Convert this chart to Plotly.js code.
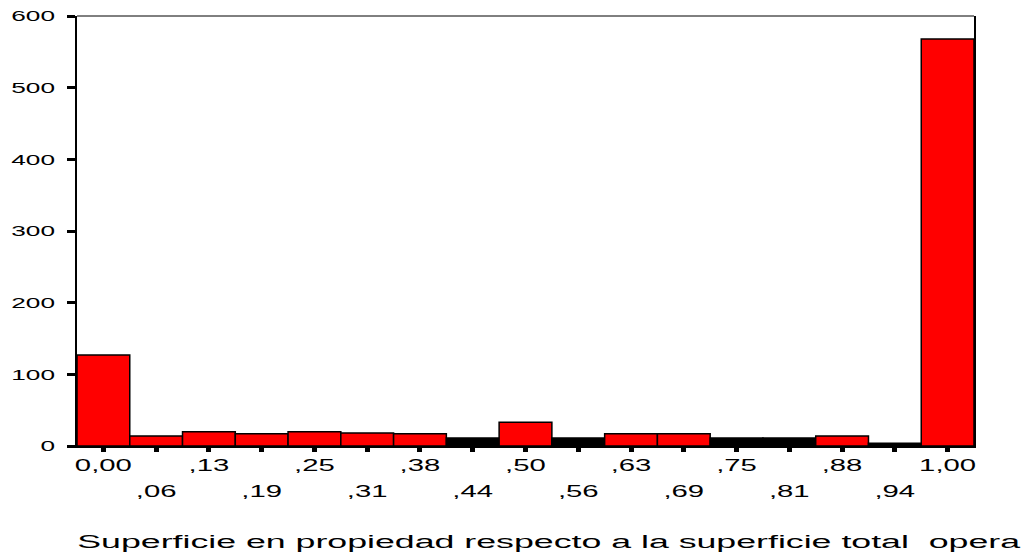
<!DOCTYPE html>
<html><head><meta charset="utf-8">
<script src="https://cdn.plot.ly/plotly-3.0.1.min.js"></script>
<style>body{margin:0;background:#fff}</style>
</head><body>
<div id="chart" style="width:1024px;height:554px"></div>
<script>
const binCenters = [0, 0.0625, 0.125, 0.1875, 0.25, 0.3125, 0.375, 0.4375, 0.5, 0.5625, 0.625, 0.6875, 0.75, 0.8125, 0.875, 0.9375, 1.0];
const counts = [127, 14, 20, 17, 20, 18, 17, 11, 33, 11, 17, 17, 11, 11, 14, 4, 568];
const tickLabels = ['0,00', ',06', ',13', ',19', ',25', ',31', ',38', ',44', ',50', ',56', ',63', ',69', ',75', ',81', ',88', ',94', '1,00'];
const yTickVals = [0, 100, 200, 300, 400, 500, 600];
const xTitle = 'Superficie en propiedad respecto a la superficie total\u00a0 opera';

const FONT = 'Liberation Sans, Arial, sans-serif';
const binWidth = binCenters[1] - binCenters[0];
const xRange = [binCenters[0] - binWidth / 2, binCenters[binCenters.length - 1] + binWidth / 2];
const row1Text = tickLabels.map((t, i) => i % 2 === 0 ? t : '');
const oddVals = binCenters.filter((v, i) => i % 2 === 1);
const oddText = tickLabels.filter((t, i) => i % 2 === 1);
const barColors = counts.map(v => v < 12 ? '#000000' : '#ff0000');

const traces = [
  {
    type: 'bar', x: binCenters, y: counts, width: binWidth,
    marker: { color: barColors, line: { color: '#000000', width: 1.5 } },
    hoverinfo: 'skip', showlegend: false
  },
  { type: 'scatter', x: [], y: [], xaxis: 'x2', yaxis: 'y', showlegend: false, hoverinfo: 'skip' }
];

const layout = {
  width: 1024, height: 554,
  margin: { l: 77, r: 50, t: 16, b: 108, pad: 0 },
  paper_bgcolor: '#ffffff', plot_bgcolor: '#ffffff',
  bargap: 0, showlegend: false, hovermode: false,
  font: { family: FONT, color: '#000000' },
  xaxis: {
    range: xRange, tickmode: 'array', tickvals: binCenters, ticktext: row1Text,
    ticks: 'outside', ticklen: 4, tickwidth: 5, tickcolor: '#000000',
    showline: true, linewidth: 2, linecolor: '#000000',
    showgrid: false, zeroline: false, fixedrange: true,
    tickfont: { family: FONT, size: 16, color: '#000000' }
  },
  xaxis2: {
    overlaying: 'x', anchor: 'y', side: 'bottom',
    range: xRange, tickmode: 'array', tickvals: oddVals, ticktext: oddText,
    ticks: '', showline: false, showgrid: false, zeroline: false, fixedrange: true,
    ticklabelstandoff: 34,
    tickfont: { family: FONT, size: 16, color: '#000000' }
  },
  yaxis: {
    range: [0, 600], tickmode: 'array', tickvals: yTickVals,
    ticks: 'outside', ticklen: 8, tickwidth: 3, tickcolor: '#000000',
    showline: true, linewidth: 2, linecolor: '#000000', mirror: true,
    showgrid: false, zeroline: false, fixedrange: true,
    ticklabelstandoff: 9,
    tickfont: { family: FONT, size: 15, color: '#000000' }
  },
  shapes: [
    { type: 'line', xref: 'paper', yref: 'paper', x0: 0, x1: 1, y0: 1, y1: 1,
      line: { color: '#000000', width: 1 } }
  ],
  annotations: [
    { text: xTitle, xref: 'paper', yref: 'paper', x: (549 - 77) / 897, y: 0,
      xanchor: 'center', yanchor: 'middle', yshift: -95, showarrow: false,
      font: { family: FONT, size: 19, color: '#000000' } }
  ]
};

function stretch(sel, sx, anchor, targetWidth) {
  document.querySelectorAll(sel).forEach(t => {
    const b = t.getBBox();
    if (!b.width) return;
    let s = sx;
    if (targetWidth) s = targetWidth / b.width;
    const cx = anchor === 'end' ? b.x + b.width : (anchor === 'start' ? b.x : b.x + b.width / 2);
    const prev = t.getAttribute('transform') || '';
    t.setAttribute('transform', prev + ' translate(' + cx + ',0) scale(' + s + ',1) translate(' + (-cx) + ',0)');
  });
}

Plotly.newPlot('chart', traces, layout, { displayModeBar: false, staticPlot: true }).then(() => {
  stretch('#chart .xtick text', 1.83, 'middle');
  stretch('#chart .x2tick text', 1.83, 'middle');
  stretch('#chart .ytick text', 1.75, 'end');
  stretch('#chart .annotation-text', 1, 'middle', 944);
});
</script>
</body></html>
